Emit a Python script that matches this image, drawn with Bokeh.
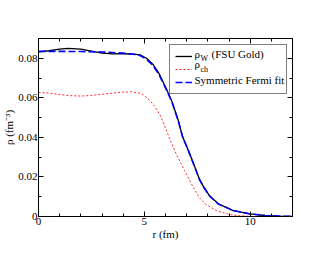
import math
from bokeh.plotting import figure
from bokeh.models import (FixedTicker, LinearAxis, Legend, LegendItem, Label, Range1d,
                          CustomJSTickFormatter)
from bokeh.core.properties import value
from bokeh.embed import file_html
from bokeh.resources import INLINE

# ---- data ----
r_w = [0, 0.5, 1.0, 1.4, 2.0, 2.5, 3.0, 3.5, 4.0, 4.5, 4.8, 5.1, 5.4, 5.7, 6.0, 6.3, 6.6, 6.8,
       7.1, 7.4, 7.6, 7.8, 8.1, 8.5, 9.2, 10.0, 10.7, 11.3, 12.0]
rho_w = [0.0832, 0.0838, 0.0846, 0.0850, 0.0846, 0.0836, 0.0826, 0.0822, 0.0823, 0.0821, 0.0817,
         0.0800, 0.0770, 0.0722, 0.0655, 0.0583, 0.0487, 0.0406, 0.0329, 0.0246, 0.0190, 0.0150,
         0.0102, 0.0064, 0.0030, 0.0013, 0.0005, 0.0002, 0.0001]

r_ch = [0, 0.5, 1.0, 1.5, 2.0, 2.5, 3.0, 3.5, 4.0, 4.4, 4.8, 5.0, 5.25, 5.5, 5.75, 6.0, 6.25,
        6.5, 6.9, 7.3, 7.6, 7.9, 8.4, 9.0, 9.5, 10.0, 11.0, 12.0]
rho_ch = [0.0627, 0.0624, 0.0617, 0.0611, 0.0609, 0.0612, 0.0618, 0.0624, 0.0629, 0.0630, 0.0624,
          0.0612, 0.0588, 0.0555, 0.0512, 0.0448, 0.0380, 0.0318, 0.0232, 0.0150, 0.0095, 0.0062,
          0.0030, 0.0010, 0.0004, 0.0001, 0.0, 0.0]

r_fit = [0, 1, 2, 3, 4, 4.5, 4.8, 5.1, 5.4, 5.7, 6.0, 6.3, 6.6, 6.8, 7.1, 7.4, 7.6, 7.8, 8.1,
         8.5, 9.2, 10.0, 10.7, 11.3, 12.0]
rho_fit = [0.0835, 0.0835, 0.0834, 0.0832, 0.0826, 0.0820, 0.0814, 0.0795, 0.0765, 0.0716,
           0.0650, 0.0580, 0.0485, 0.0405, 0.0328, 0.0245, 0.0188, 0.0149, 0.0101, 0.0063,
           0.0030, 0.0013, 0.0005, 0.0002, 0.0001]

x_major = [0, 5, 10]
x_minor = [1, 2, 3, 4, 6, 7, 8, 9, 11]
y_major = [0, 0.02, 0.04, 0.06, 0.08]
y_minor = [0.01, 0.03, 0.05, 0.07, 0.09]

FONT = "Liberation Serif"
FS = "11px"

p = figure(width=330, height=255, output_backend="svg", toolbar_location=None,
           x_range=Range1d(0, 12), y_range=Range1d(0, 0.09),
           min_border_left=38, min_border_right=38, min_border_top=38, min_border_bottom=39)
p.xgrid.visible = False
p.ygrid.visible = False
p.outline_line_color = "black"
p.outline_line_width = 1
p.background_fill_color = "white"
p.border_fill_color = "white"

def style_axis(ax, ticks, minor):
    ax.ticker = FixedTicker(ticks=ticks, minor_ticks=minor)
    ax.axis_line_color = "black"
    ax.major_tick_line_color = "black"
    ax.minor_tick_line_color = "black"
    ax.major_tick_in = 5
    ax.major_tick_out = 0
    ax.minor_tick_in = 3
    ax.minor_tick_out = 0
    ax.major_label_text_font = FONT
    ax.major_label_text_font_size = FS
    ax.major_label_text_color = "black"
    ax.axis_label_text_font = FONT
    ax.axis_label_text_font_size = FS
    ax.axis_label_text_font_style = "normal"
    ax.axis_label_text_color = "black"

xa = p.xaxis[0]
style_axis(xa, x_major, x_minor)
xa.axis_label = "r (fm)"
xa.major_label_standoff = 1
xa.axis_label_standoff = 0

ya = p.yaxis[0]
style_axis(ya, y_major, y_minor)
ya.axis_label = "ρ (fm⁻³)"
ya.major_label_standoff = 1
ya.axis_label_standoff = 0
ya.major_label_overrides = {0: "0"}

top = LinearAxis()
style_axis(top, x_major, x_minor)
top.formatter = CustomJSTickFormatter(code="return ''")
p.add_layout(top, "above")
right = LinearAxis()
style_axis(right, y_major, y_minor)
right.formatter = CustomJSTickFormatter(code="return ''")
p.add_layout(right, "right")

l_w = p.line(r_w, rho_w, line_color="black", line_width=1.3)
l_ch = p.line(r_ch, rho_ch, line_color="#ff0000", line_width=1, line_dash="2 2", line_alpha=0.85)
l_fit = p.line(r_fit, rho_fit, line_color="#0000ff", line_width=1.6, line_dash="7 3")

legend = Legend(items=[LegendItem(label=value(""), renderers=[l_w]),
                       LegendItem(label=value(""), renderers=[l_ch]),
                       LegendItem(label=value(""), renderers=[l_fit])],
                location=(131, 122), margin=0, padding=5, spacing=1,
                glyph_width=17, glyph_height=12, label_height=12, label_width=86,
                label_standoff=3, border_line_color="black", border_line_width=1,
                background_fill_alpha=0.0)
p.add_layout(legend, "center")

def lab(text, x, y, size=FS):
    p.add_layout(Label(x=x, y=y, x_units="screen", y_units="screen", text=text,
                       text_font=FONT, text_font_size=size, text_color="black",
                       text_baseline="middle", text_align="left"))

lab("ρ", 156, 163)
lab("W", 162, 158.5, size="8px")
lab("(FSU Gold)", 173, 163)
lab("ρ", 156, 152.5)
lab("ch", 162, 147.5, size="8px")
lab("Symmetric Fermi fit", 156, 136.5)

open("out.html", "w").write(file_html(p, INLINE))
